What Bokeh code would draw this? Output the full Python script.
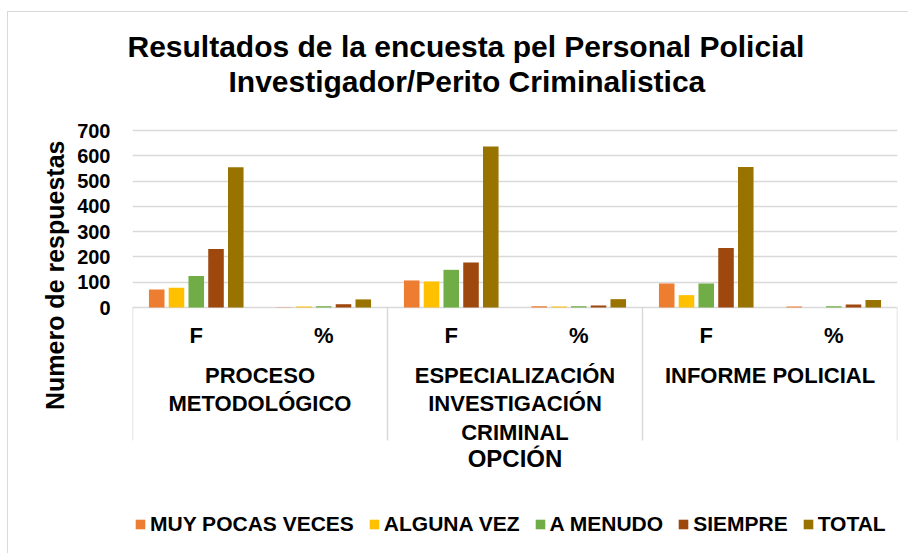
from bokeh.plotting import figure
from bokeh.models import (FactorRange, Range1d, FixedTicker, Title, Legend,
                          LegendItem, ColumnDataSource)
from bokeh.transform import dodge
from bokeh.core.properties import value
from bokeh.embed import file_html
from bokeh.resources import INLINE

# ---------------- data ----------------
groups = ["PROCESO METODOLÓGICO", "ESPECIALIZACIÓN INVESTIGACIÓN CRIMINAL", "INFORME POLICIAL"]
group_labels = ["PROCESO\nMETODOLÓGICO", "ESPECIALIZACIÓN\nINVESTIGACIÓN\nCRIMINAL", "INFORME POLICIAL"]
subcats = ["F", "%"]
series = ["MUY POCAS VECES", "ALGUNA VEZ", "A MENUDO", "SIEMPRE", "TOTAL"]
colors = ["#ED7D31", "#FFC000", "#70AD47", "#9E480E", "#997300"]

# order: (PM,F), (PM,%), (EIC,F), (EIC,%), (IP,F), (IP,%)
muy_pocas_veces = [71, 1, 107, 5, 95, 4]
alguna_vez = [78, 4, 103, 4, 49, 0]
a_menudo = [125, 5, 149, 5, 95, 5]
siempre = [231, 13, 178, 8, 235, 12]
total = [555, 32, 637, 33, 556, 30]
y_ticks = [0, 100, 200, 300, 400, 500, 600, 700]

title_line1 = "Resultados de la encuesta pel Personal Policial"
title_line2 = "Investigador/Perito Criminalistica"
y_title = "Numero de respuestas"
x_title = "OPCIÓN"

FONT = "Liberation Sans"

factors = [(g, s) for g in groups for s in subcats]
src = ColumnDataSource(dict(
    x=factors,
    s0=muy_pocas_veces, s1=alguna_vez, s2=a_menudo, s3=siempre, s4=total,
))

# frame: top 97px .. bottom 548px (page); value 700 at 130px, value 0 at 307px,
# category box bottom at 440px
PX_PER_UNIT = 177 / 700
y_box = -133 / PX_PER_UNIT
y_bottom = -241 / PX_PER_UNIT
y_top = 700 + 33 / PX_PER_UNIT
x_range = FactorRange(*factors, factor_padding=0, group_padding=0, range_padding=0)
y_range = Range1d(y_bottom, y_top)

p = figure(width=901, height=542, x_range=x_range, y_range=y_range,
           title=None, toolbar_location=None, output_backend="svg",
           x_axis_location=None,
           min_border_left=124, min_border_right=12, min_border_top=85,
           min_border_bottom=6)
p.margin = (12, 0, 0, 8)
p.outline_line_color = None
p.background_fill_color = "white"
p.border_fill_color = "white"

# bars
offsets = [-0.31, -0.155, 0.0, 0.155, 0.31]
renderers = []
for i, (name, col) in enumerate(zip(series, colors)):
    r = p.vbar(x=dodge("x", offsets[i], range=x_range), top="s%d" % i, width=0.122,
               source=src, fill_color=col, line_color=None)
    renderers.append(r)

# category box lines
gsrc = ColumnDataSource(dict(g=groups))
p.segment(x0=dodge("g", -1.0, range=x_range), y0=0, x1=dodge("g", -1.0, range=x_range),
          y1=y_box, source=gsrc, line_color="#d9d9d9", line_width=1.5)
lsrc = ColumnDataSource(dict(g=groups[-1:]))
p.segment(x0=dodge("g", 1.0, range=x_range), y0=0, x1=dodge("g", 1.0, range=x_range),
          y1=y_box, source=lsrc, line_color="#d9d9d9", line_width=1.5)

# category labels
p.text(x=factors, y=0, text=subcats * len(groups), text_align="center",
       text_baseline="middle", y_offset=28, text_font=value(FONT),
       text_font_style="bold", text_font_size="22px", text_color="black")
p.text(x=groups, y=0, text=group_labels, text_align="center",
       text_baseline="top", y_offset=55, text_line_height=1.15, text_font=value(FONT),
       text_font_style="bold", text_font_size="22px", text_color="black")
# x axis title
p.text(x=groups[1:2], y=0, text=[x_title], text_align="center",
       text_baseline="middle", y_offset=151, text_font=value(FONT),
       text_font_style="bold", text_font_size="24px", text_color="black")

# y axis
p.yaxis.ticker = FixedTicker(ticks=y_ticks)
p.yaxis.axis_line_color = None
p.yaxis.major_tick_line_color = None
p.yaxis.minor_tick_line_color = None
p.yaxis.major_tick_out = 0
p.yaxis.major_tick_in = 0
p.yaxis.minor_tick_out = 0
p.yaxis.major_label_text_font = FONT
p.yaxis.major_label_text_font_style = "bold"
p.yaxis.major_label_text_font_size = "20px"
p.yaxis.major_label_text_color = "black"
p.yaxis.major_label_standoff = 22

p.xgrid.visible = False
p.ygrid.grid_line_color = "#d9d9d9"
p.ygrid.grid_line_width = 1.5

# y axis title (left panel, outside the tick labels)
p.add_layout(Title(text=y_title, align="right", offset=43, vertical_align="bottom",
                   text_font=FONT, text_font_style="bold", text_font_size="25px",
                   text_color="black", standoff=12), "left")

# titles (first added = nearest to the frame)
p.add_layout(Title(text=title_line2, align="left", offset=96, text_font=FONT,
                   text_font_style="bold", text_font_size="30px", text_color="black",
                   standoff=0), "above")
p.add_layout(Title(text=title_line1, align="left", offset=-5, text_font=FONT,
                   text_font_style="bold", text_font_size="30px", text_color="black",
                   standoff=0), "above")

# legend (inside the extended frame, below the category box)
legend = Legend(items=[LegendItem(label=s, renderers=[r]) for s, r in zip(series, renderers)],
                orientation="horizontal", location=(2, 12),
                label_text_font=FONT, label_text_font_style="bold",
                label_text_font_size="21px", label_text_color="black",
                glyph_width=12, glyph_height=12, label_standoff=4, spacing=14,
                padding=0, margin=0, border_line_color=None, background_fill_alpha=0)
p.add_layout(legend)

p.styles = {"box-shadow": "-1px -1px 0 0 #d9d9d9"}

open("out.html", "w").write(file_html(p, INLINE))
